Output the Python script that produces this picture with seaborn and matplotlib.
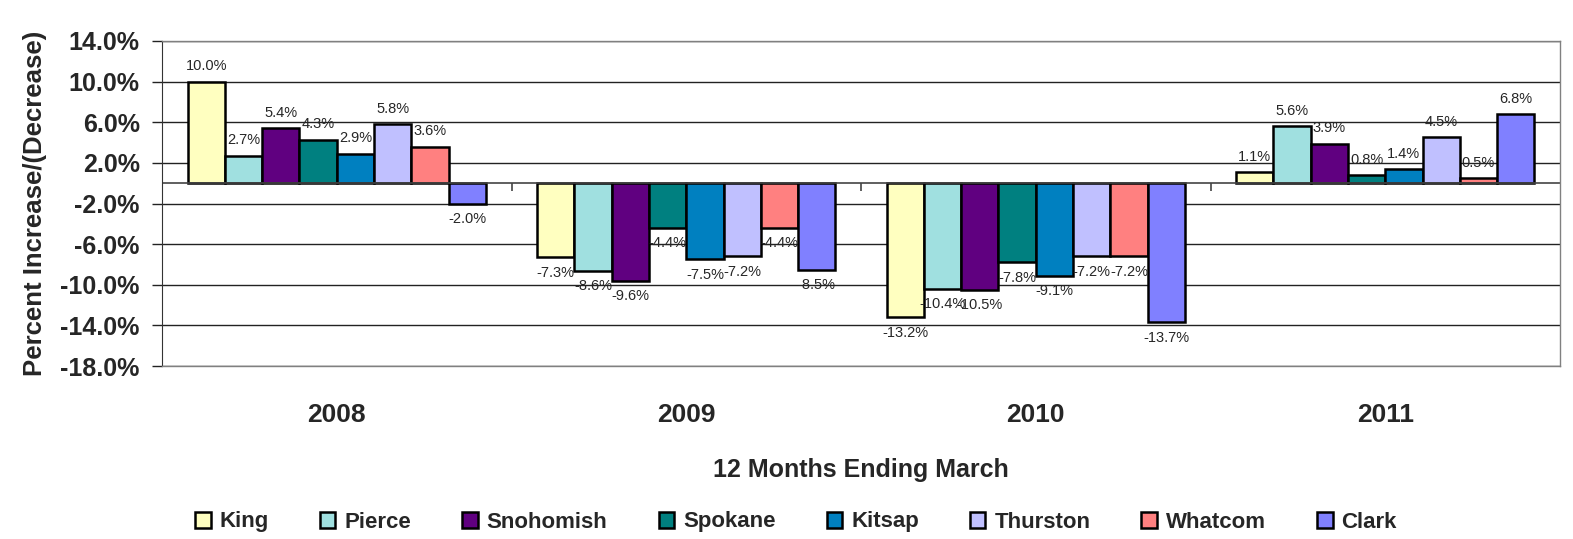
import numpy as np
import pandas as pd
import matplotlib
matplotlib.use("Agg")
import matplotlib.pyplot as plt
import seaborn as sns

years = ["2008", "2009", "2010", "2011"]
counties = ["King", "Pierce", "Snohomish", "Spokane", "Kitsap", "Thurston", "Whatcom", "Clark"]
king = [10.0, -7.3, -13.2, 1.1]
pierce = [2.7, -8.6, -10.4, 5.6]
snohomish = [5.4, -9.6, -10.5, 3.9]
spokane = [4.3, -4.4, -7.8, 0.8]
kitsap = [2.9, -7.5, -9.1, 1.4]
thurston = [5.8, -7.2, -7.2, 4.5]
whatcom = [3.6, -4.4, -7.2, 0.5]
clark = [-2.0, -8.5, -13.7, 6.8]
yticks = [14, 10, 6, 2, -2, -6, -10, -14, -18]
colors = ["#FFFFC0", "#A0E0E0", "#600080", "#008080", "#0080C0", "#C0C0FF", "#FF8080", "#8080FF"]

series = [king, pierce, snohomish, spokane, kitsap, thurston, whatcom, clark]
rows = []
for c, vals in zip(counties, series):
    for y, v in zip(years, vals):
        rows.append({"year": y, "county": c, "value": v})
df = pd.DataFrame(rows)

sns.set_style("white")
plt.rcParams["font.family"] = ["Liberation Sans", "DejaVu Sans"]

fig = plt.figure(figsize=(15.73, 5.39), dpi=100)
ax = fig.add_axes([162/1573, 1-366/539, (1560-162)/1573, (366-41)/539])

sns.barplot(data=df, x="year", y="value", hue="county", order=years, hue_order=counties,
            palette=colors, saturation=1, width=0.853, edgecolor="black", linewidth=1.8,
            ax=ax, legend=True)

ax.set_ylim(-18, 14)
ax.set_xlim(-0.5, len(years) - 0.5)
ax.set_yticks(yticks)
ax.set_yticklabels([f"{t:.1f}%" for t in yticks], fontsize=18, fontweight="bold")
ax.yaxis.grid(True, color="#222222", linewidth=1)
ax.set_axisbelow(True)
ax.tick_params(axis="y", length=7, width=1, pad=9, color="#222222", left=True)
ax.tick_params(axis="x", length=0, pad=27)
ax.set_xticks(range(len(years)))
ax.set_xticklabels(years, fontsize=19, fontweight="bold")
ax.set_xlabel("12 Months Ending March", fontsize=18, fontweight="bold", labelpad=22)
ax.set_ylabel("Percent Increase/(Decrease)", fontsize=18.5, fontweight="bold", labelpad=10)

for s in ["top", "right", "bottom"]:
    ax.spines[s].set_color("#808080")
    ax.spines[s].set_linewidth(1)
ax.spines["left"].set_color("#333333")

ax.axhline(0, color="#444444", linewidth=1.2, zorder=1.5)
bounds = np.arange(len(years) + 1) - 0.5
ax.vlines(bounds[1:-1], -0.8, 0, color="#444444", linewidth=1.2)

for cont in ax.containers:
    labels = [f"{b.get_height():.1f}%" for b in cont]
    ax.bar_label(cont, labels=labels, padding=6, fontsize=10.5)

handles, labs = ax.get_legend_handles_labels()
ax.get_legend().remove()
fig.legend(handles, labs, loc="center", bbox_to_anchor=(0.506, 1-522/539), ncol=8,
           frameon=False, prop={"weight": "bold", "size": 16}, handlelength=0.7,
           handleheight=0.7, columnspacing=2.3, handletextpad=0.4)

fig.savefig("out.png", dpi=100)
